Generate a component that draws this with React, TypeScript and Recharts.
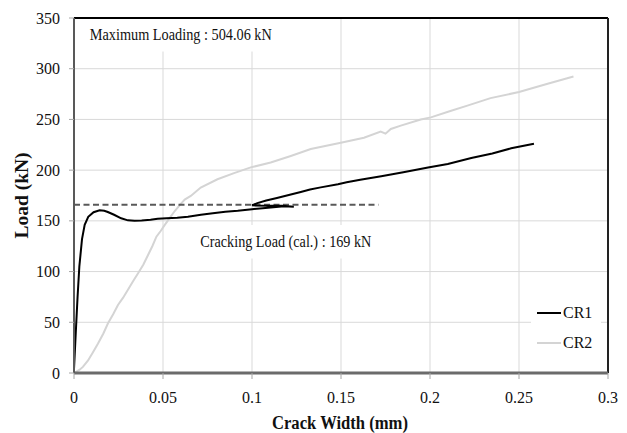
import React from 'react';
import { LineChart, Line, XAxis, YAxis, CartesianGrid, ReferenceLine, ReferenceArea, Legend } from 'recharts';

// crack width (mm) / load (kN)
const cr1Width = [0, 0.001, 0.002, 0.003, 0.0045, 0.006, 0.008, 0.011, 0.0144, 0.017, 0.019, 0.0225, 0.0265, 0.0303, 0.034, 0.038, 0.043, 0.047, 0.052, 0.058, 0.064, 0.0713, 0.078, 0.085, 0.092, 0.1, 0.106, 0.112, 0.118, 0.1235, 0.117, 0.109, 0.1, 0.103, 0.108, 0.114, 0.1218, 0.1274, 0.1326, 0.1386, 0.1483, 0.1532, 0.1608, 0.1726, 0.185, 0.1989, 0.21, 0.2232, 0.235, 0.2456, 0.2584];
const cr1Load = [4, 40, 75, 105, 132, 146, 154, 158.5, 160.4, 160, 158.7, 156, 152.5, 150.5, 150, 150.3, 151, 152, 152.5, 153, 154, 156, 157.5, 159, 160, 161.5, 162.5, 163.5, 164.5, 164, 165, 165, 165.3, 167.5, 170, 172.5, 176, 178.5, 181, 183, 186, 188, 190.5, 194, 198, 202.5, 206, 212, 216.5, 221.5, 226];

const cr2Width = [0, 0.003, 0.005, 0.0079, 0.0105, 0.0135, 0.0165, 0.0191, 0.022, 0.0247, 0.0275, 0.0303, 0.033, 0.036, 0.039, 0.0416, 0.044, 0.0463, 0.0487, 0.051, 0.0538, 0.0566, 0.06, 0.0622, 0.0656, 0.0712, 0.0806, 0.0899, 0.0993, 0.1105, 0.1218, 0.133, 0.1499, 0.1629, 0.1723, 0.175, 0.178, 0.1836, 0.1948, 0.2005, 0.211, 0.221, 0.234, 0.25, 0.2656, 0.2806];
const cr2Load = [0, 3, 6, 12.4, 20, 29, 39, 49, 58, 67, 74, 82, 90, 98.3, 107, 116.3, 125, 134.4, 140, 146, 153, 159.7, 166.8, 171, 174.6, 182.9, 191, 197, 202.7, 207.6, 214, 220.8, 227, 232, 238, 236, 240.6, 243.9, 250, 252, 258, 263.6, 271, 277, 285, 292.4];

const crackWidth = [0, 0.171];
const crackLoad = [166, 166];

const xTicks = [0, 0.05, 0.1, 0.15, 0.2, 0.25, 0.3];
const yTicks = [0, 50, 100, 150, 200, 250, 300, 350];

const seriesNames = ['CR1', 'CR2'];
const seriesColors = ['#000000', '#d4d4d4'];

const toPoints = (xs: number[], ys: number[]) => xs.map((x, i) => ({ x, y: ys[i] }));
const cr1 = toPoints(cr1Width, cr1Load);
const cr2 = toPoints(cr2Width, cr2Load);
const crack = toPoints(crackWidth, crackLoad);

const font = 'Liberation Serif, Times New Roman, serif';

const XTick = (props: any) => {
  const { x, y, payload } = props;
  return (
    <text x={x} y={y} dy="0.71em" textAnchor="middle" fontFamily={font} fontSize={16} fill="#111">
      {String(payload.value)}
    </text>
  );
};

const YTick = (props: any) => {
  const { x, y, payload } = props;
  return (
    <text x={x} y={y} dominantBaseline="central" textAnchor="end" fontFamily={font} fontSize={16} fill="#111">
      {String(payload.value)}
    </text>
  );
};

const boxText = (text: string, len: number) => (props: any) => {
  const vb = props.viewBox || {};
  const cx = vb.x + vb.width / 2;
  const cy = vb.y + vb.height / 2;
  return (
    <text x={cx} y={cy} textAnchor="middle" dominantBaseline="central" fontFamily={font} fontSize={17}
      fill="#111" textLength={len} lengthAdjust="spacingAndGlyphs">
      {text}
    </text>
  );
};

const YTitle = (props: any) => {
  const vb = props.viewBox || { y: 18, height: 355 };
  const cx = 22;
  const cy = vb.y + vb.height / 2;
  return (
    <text x={cx} y={cy} transform={`rotate(-90 ${cx} ${cy})`} textAnchor="middle" dominantBaseline="central"
      fontFamily={font} fontWeight="bold" fontSize={18} fill="#111" textLength={86} lengthAdjust="spacingAndGlyphs">
      Load (kN)
    </text>
  );
};

const XTitle = (props: any) => {
  const vb = props.viewBox || { x: 74, width: 534 };
  const cx = vb.x + vb.width / 2 - 1;
  return (
    <text x={cx} y={423} textAnchor="middle" dominantBaseline="central" fontFamily={font} fontWeight="bold"
      fontSize={18} fill="#111" textLength={136} lengthAdjust="spacingAndGlyphs">
      Crack Width (mm)
    </text>
  );
};

const LegendBox = () => (
  <div style={{ background: '#fff', width: 70, height: 60, fontFamily: font, fontSize: 16, color: '#111' }}>
    {seriesNames.map((name, i) => (
      <div key={name} style={{ height: 30, display: 'flex', alignItems: 'center' }}>
        <span style={{ display: 'inline-block', marginLeft: 6, width: 24, height: i === 0 ? 2.5 : 2, background: seriesColors[i] }} />
        <span style={{ marginLeft: 2 }}>{name}</span>
      </div>
    ))}
  </div>
);

export default function App() {
  return (
    <div style={{ fontFamily: font }}>
      <style>{'body{margin:0}'}</style>
      <LineChart width={627} height={433} margin={{ top: 18, right: 19, bottom: 30, left: 0 }}>
        <CartesianGrid stroke="#d9d9d9" strokeWidth={1} />
        <XAxis
          type="number"
          dataKey="x"
          domain={[0, 0.3]}
          ticks={xTicks}
          height={30}
          tickSize={6}
          tickMargin={13}
          tickLine={{ stroke: '#a6a6a6' }}
          axisLine={{ stroke: '#6b6b6b', strokeWidth: 3 }}
          tick={<XTick />}
          label={<XTitle />}
        />
        <YAxis
          type="number"
          dataKey="y"
          domain={[0, 350]}
          ticks={yTicks}
          width={74}
          tickSize={5}
          tickMargin={9}
          tickLine={{ stroke: '#a6a6a6' }}
          axisLine={{ stroke: '#595959', strokeWidth: 2 }}
          tick={<YTick />}
          label={<YTitle />}
        />
        <ReferenceArea x1={0.006} x2={0.114} y1={317} y2={350} fill="#fff" fillOpacity={1} stroke="none"
          label={boxText('Maximum Loading : 504.06 kN', 182)} />
        <ReferenceArea x1={0.068} x2={0.17} y1={113} y2={146} fill="#fff" fillOpacity={1} stroke="none"
          label={boxText('Cracking Load (cal.) : 169 kN', 171)} />
        <ReferenceLine y={350} stroke="#000" strokeWidth={2} />
        <ReferenceLine x={0.3} stroke="#222" strokeWidth={2} />
        <Line data={cr2} dataKey="y" name={seriesNames[1]} type="linear" stroke={seriesColors[1]} strokeWidth={2}
          dot={false} isAnimationActive={false} />
        <Line data={crack} dataKey="y" name="Cracking" type="linear" stroke="#595959" strokeWidth={2}
          strokeDasharray="6 3.5" dot={false} legendType="none" isAnimationActive={false} />
        <Line data={cr1} dataKey="y" name={seriesNames[0]} type="linear" stroke={seriesColors[0]} strokeWidth={2}
          dot={false} isAnimationActive={false} />
        <Legend layout="vertical" align="center" verticalAlign="middle" content={<LegendBox />}
          wrapperStyle={{ left: 531, top: 298, width: 70, height: 60 }} />
      </LineChart>
    </div>
  );
}
